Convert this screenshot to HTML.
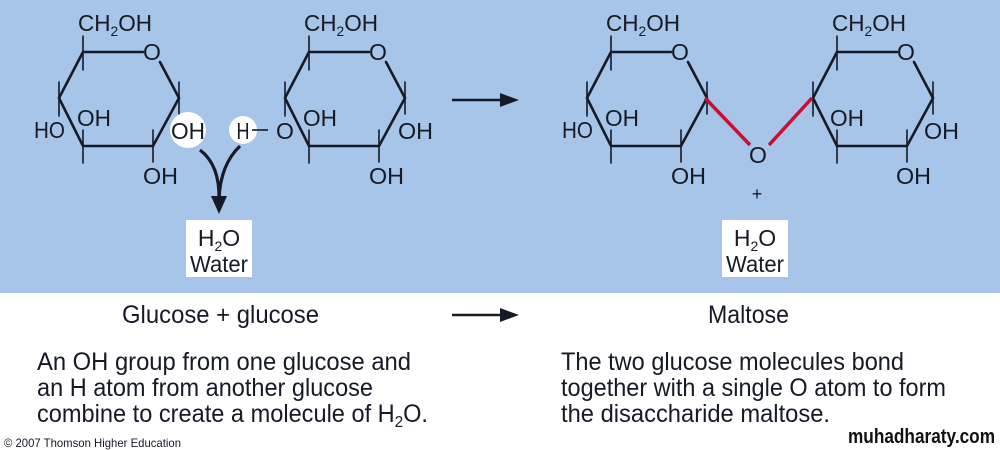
<!DOCTYPE html>
<html><head><meta charset="utf-8"><style>html,body{margin:0;padding:0;background:#fff}svg{display:block}</style></head>
<body>
<svg width="1000" height="450" viewBox="0 0 1000 450" xmlns="http://www.w3.org/2000/svg" font-family="Liberation Sans, sans-serif">
<rect x="0" y="0" width="1000" height="293" fill="#a6c5e9"/>
<defs>
<g id="ring" stroke="#151a26" stroke-width="2.6" fill="none" stroke-linecap="round">
<path d="M83,52 L143,52 M160,62 L179,98 L153,146 L83,146 L59,98 L83,52"/>
<path d="M83,36 L83,70 M59,82 L59,116 M179,82 L179,114 M83,146 L83,163 M153,130 L153,162 M83,130 L83,146" stroke-width="1.6"/>
</g>
</defs>
<g font-size="23" fill="#151a26">
<use href="#ring"/>
<text x="78" y="31" textLength="74" lengthAdjust="spacingAndGlyphs">CH<tspan font-size="14" dy="5">2</tspan><tspan dy="-5">OH</tspan></text>
<text x="152" y="60" text-anchor="middle">O</text>
<text x="34" y="138" textLength="31" lengthAdjust="spacingAndGlyphs">HO</text>
<text x="77" y="126" textLength="34" lengthAdjust="spacingAndGlyphs">OH</text>
<text x="143" y="184" textLength="35" lengthAdjust="spacingAndGlyphs">OH</text>
<circle cx="188" cy="130" r="18" fill="#fff"/>
<text x="171" y="139" textLength="34" lengthAdjust="spacingAndGlyphs">OH</text>
<use href="#ring" x="226"/>
<text x="304" y="31" textLength="74" lengthAdjust="spacingAndGlyphs">CH<tspan font-size="14" dy="5">2</tspan><tspan dy="-5">OH</tspan></text>
<text x="378" y="60" text-anchor="middle">O</text>
<text x="303" y="126" textLength="34" lengthAdjust="spacingAndGlyphs">OH</text>
<text x="398" y="139" textLength="35" lengthAdjust="spacingAndGlyphs">OH</text>
<text x="369" y="184" textLength="35" lengthAdjust="spacingAndGlyphs">OH</text>
<circle cx="243" cy="130" r="14" fill="#fff"/>
<text x="243" y="139" text-anchor="middle" textLength="13" lengthAdjust="spacingAndGlyphs">H</text>
<line x1="252" y1="130" x2="268" y2="130" stroke="#151a26" stroke-width="1.6"/>
<text x="285" y="139" text-anchor="middle">O</text>
<path d="M200,150 Q220,165 219,200 M240,146 Q220,165 219,200" stroke="#151a26" stroke-width="3.2" fill="none"/>
<path d="M211,196 L227,196 L219,214 Z" fill="#151a26"/>
<rect x="186" y="220" width="66" height="57" fill="#fff"/>
<text x="219" y="246" text-anchor="middle">H<tspan font-size="14" dy="5">2</tspan><tspan dy="-5">O</tspan></text>
<text x="219" y="272" text-anchor="middle" textLength="58" lengthAdjust="spacingAndGlyphs">Water</text>
<line x1="452" y1="100" x2="505" y2="100" stroke="#151a26" stroke-width="2.6"/>
<path d="M500,93 L519,100 L500,107 Z" fill="#151a26"/>
<use href="#ring" x="528"/>
<text x="606" y="31" textLength="74" lengthAdjust="spacingAndGlyphs">CH<tspan font-size="14" dy="5">2</tspan><tspan dy="-5">OH</tspan></text>
<text x="680" y="60" text-anchor="middle">O</text>
<text x="562" y="138" textLength="31" lengthAdjust="spacingAndGlyphs">HO</text>
<text x="605" y="126" textLength="34" lengthAdjust="spacingAndGlyphs">OH</text>
<text x="671" y="184" textLength="35" lengthAdjust="spacingAndGlyphs">OH</text>
<use href="#ring" x="754"/>
<text x="832" y="31" textLength="74" lengthAdjust="spacingAndGlyphs">CH<tspan font-size="14" dy="5">2</tspan><tspan dy="-5">OH</tspan></text>
<text x="906" y="60" text-anchor="middle">O</text>
<text x="830" y="126" textLength="34" lengthAdjust="spacingAndGlyphs">OH</text>
<text x="924" y="139" textLength="35" lengthAdjust="spacingAndGlyphs">OH</text>
<text x="896" y="184" textLength="35" lengthAdjust="spacingAndGlyphs">OH</text>
<path d="M705,98 L750,145 M769,145 L812,98" stroke="#c8102e" stroke-width="3.5" fill="none"/>
<text x="758" y="163" text-anchor="middle">O</text>
<text x="757" y="200" text-anchor="middle" font-size="18">+</text>
<rect x="722" y="220" width="66" height="57" fill="#fff"/>
<text x="755" y="246" text-anchor="middle">H<tspan font-size="14" dy="5">2</tspan><tspan dy="-5">O</tspan></text>
<text x="755" y="272" text-anchor="middle" textLength="58" lengthAdjust="spacingAndGlyphs">Water</text>
</g>
<g fill="#151a26" font-size="25">
<text x="122" y="323" textLength="197" lengthAdjust="spacingAndGlyphs">Glucose + glucose</text>
<line x1="452" y1="315" x2="505" y2="315" stroke="#151a26" stroke-width="2.6"/>
<path d="M500,308 L519,315 L500,322 Z"/>
<text x="708" y="323" textLength="81" lengthAdjust="spacingAndGlyphs">Maltose</text>
<text x="37" y="370" textLength="374" lengthAdjust="spacingAndGlyphs">An OH group from one glucose and</text>
<text x="37" y="396" textLength="336" lengthAdjust="spacingAndGlyphs">an H atom from another glucose</text>
<text x="37" y="422" textLength="391" lengthAdjust="spacingAndGlyphs">combine to create a molecule of H<tspan font-size="16" dy="5">2</tspan><tspan dy="-5">O.</tspan></text>
<text x="561" y="370" textLength="343" lengthAdjust="spacingAndGlyphs">The two glucose molecules bond</text>
<text x="561" y="396" textLength="385" lengthAdjust="spacingAndGlyphs">together with a single O atom to form</text>
<text x="561" y="422" textLength="269" lengthAdjust="spacingAndGlyphs">the disaccharide maltose.</text>
<text x="4" y="447" font-size="12" textLength="177" lengthAdjust="spacingAndGlyphs">© 2007 Thomson Higher Education</text>
<text x="848" y="443" font-size="20" font-weight="bold" textLength="147" lengthAdjust="spacingAndGlyphs" fill="#111">muhadharaty.com</text>
</g>
</svg>
</body></html>
